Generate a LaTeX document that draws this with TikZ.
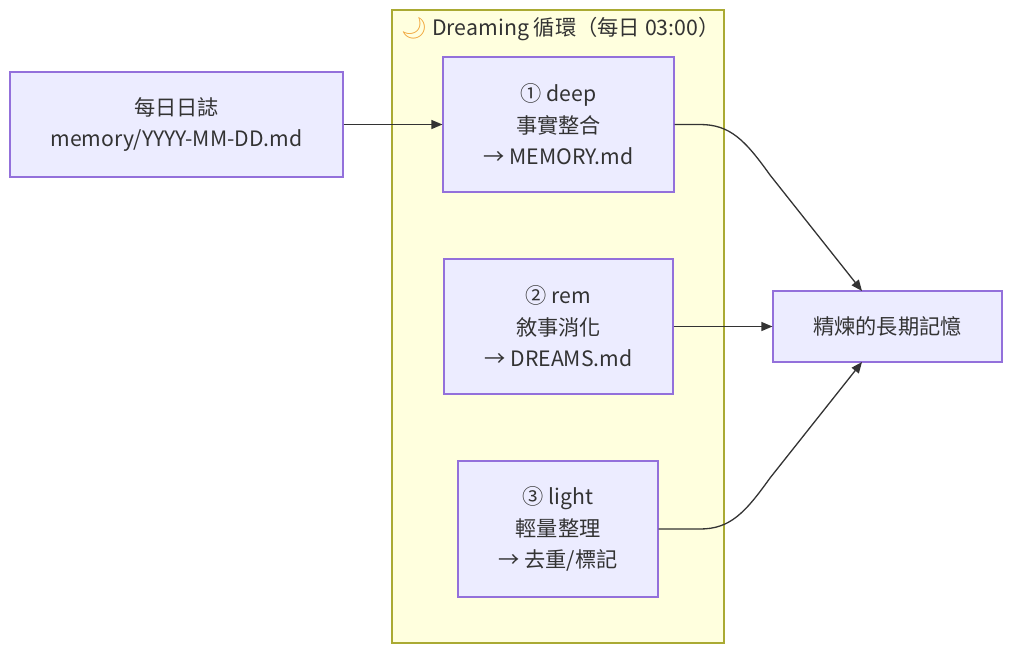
\documentclass[tikz,border=0pt]{standalone}
\usepackage{fontspec}
\setmainfont{Noto Sans CJK TC}
\newfontfamily\emojifont{Noto Emoji}
\usetikzlibrary{arrows.meta}
\definecolor{nodefill}{HTML}{ECECFF}
\definecolor{nodeline}{HTML}{9370DB}
\definecolor{clusterfill}{HTML}{FFFFDE}
\definecolor{clusterline}{HTML}{AAAA33}
\definecolor{txt}{HTML}{333333}
\definecolor{moon}{HTML}{F0A030}
\begin{document}
\begin{tikzpicture}[x=1pt,y=-1pt,
  box/.style={draw=nodeline,fill=nodefill,line width=1.2pt,inner sep=0pt,align=center,
    text=txt,font=\fontsize{21.2}{31.5}\selectfont},
  link/.style={draw=txt,line width=1.3pt,-{Triangle[length=11pt,width=9pt]}}]
\useasboundingbox (0,0) rectangle (1024,661);
\node[draw=clusterline,fill=clusterfill,line width=1.2pt,minimum width=332pt,minimum height=633pt,inner sep=0pt] (cl) at (558,326.5) {};
\node[text=txt,font=\fontsize{21.3}{24}\selectfont,anchor=center] (title) at (560,29.5) {{\emojifont\color{moon}🌙}\ Dreaming 循環（每日 03:00）};
\node[box,minimum width=333pt,minimum height=105pt] (a) at (176.5,124.5) {每日日誌\\memory/YYYY-MM-DD.md};
\node[box,minimum width=231pt,minimum height=135pt] (deep) at (558.5,124.5) {① deep\\事實整合\\→ MEMORY.md};
\node[box,minimum width=229pt,minimum height=135pt] (rem) at (558.5,326.5) {② rem\\敘事消化\\→ DREAMS.md};
\node[box,minimum width=200pt,minimum height=136pt] (light) at (558,529) {③ light\\輕量整理\\→ 去重/標記};
\node[box,minimum width=229pt,minimum height=71pt] (out) at (887.5,326.5) {精煉的長期記憶};
\coordinate (outtop) at (862,291);
\coordinate (outbot) at (862,362);
\draw[link] (a.east) -- (deep.west);
\draw[link] (rem.east) -- (out.west);
\draw[link] (deep.east) -- (700,124.5) .. controls (730,124.5) and (745,140) .. (770,175) -- (outtop);
\draw[link] (light.east) -- (700,529) .. controls (730,529) and (745,513) .. (770,478) -- (outbot);
\end{tikzpicture}
\end{document}
